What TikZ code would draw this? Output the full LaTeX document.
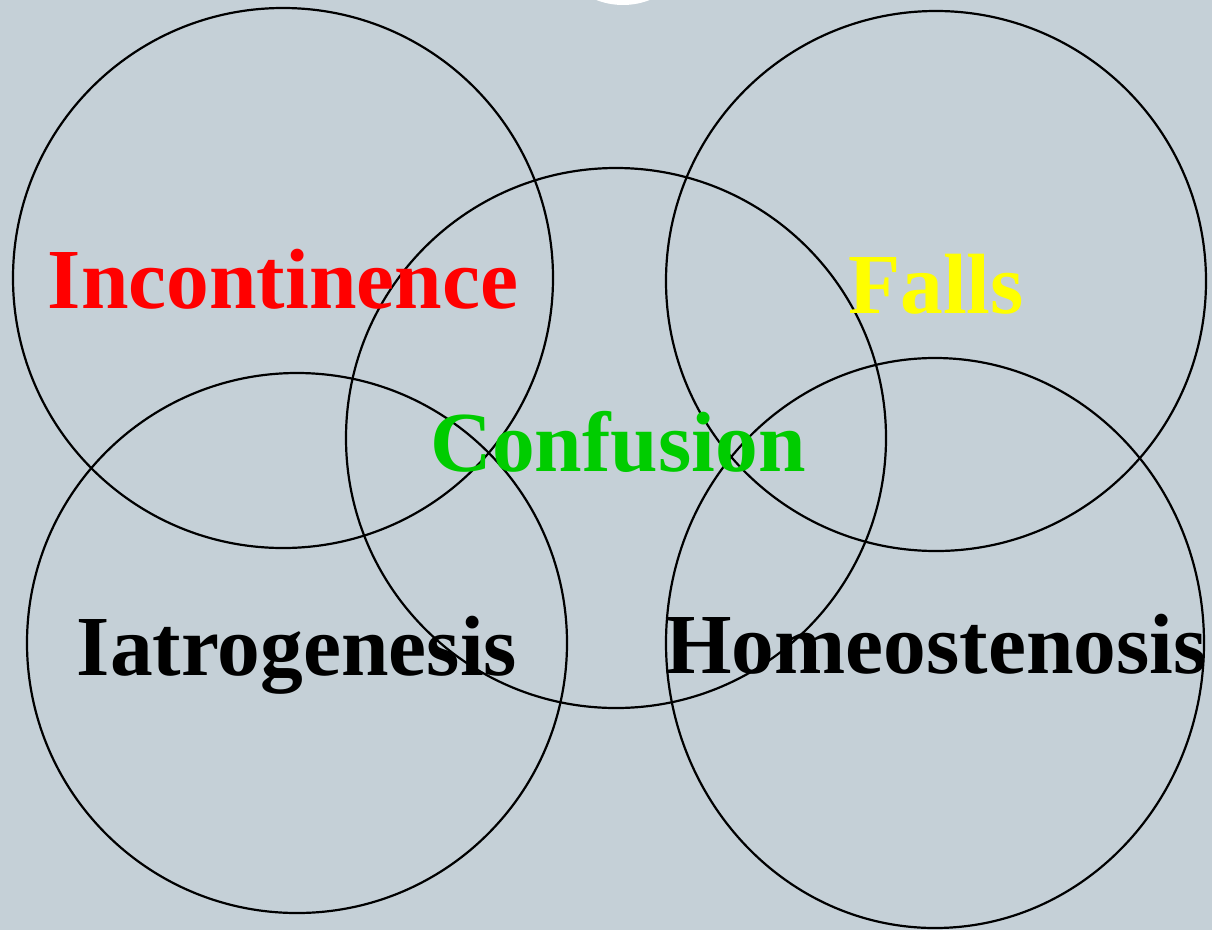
\documentclass[tikz,border=0pt]{standalone}
\usepackage{fontspec}
\setmainfont{Liberation Serif}
\usepackage{xcolor}
\usepackage{tikz}
\usetikzlibrary{positioning}
\definecolor{geriback}{HTML}{C5D0D7}
\definecolor{gerired}{RGB}{255, 0, 0}
\definecolor{geriyellow}{RGB}{255, 255, 0}
\definecolor{gerigreen}{RGB}{0, 204, 0}

\begin{document}
\begin{tikzpicture}[
    x=1pt, y=-1pt,
    ring/.style={draw=black, line width=2.2pt},
    word/.style={anchor=base, inner sep=0pt, font=\fontsize{85.5}{90}\selectfont\bfseries}
]
    % Background
    \fill[geriback] (0,0) rectangle (1212,930);
    \useasboundingbox (0,0) rectangle (1212,930);
    \fill[white] (623,-68) circle[radius=73];

    % Rings
    \draw[ring] (283,278) circle[radius=270];
    \draw[ring] (936,281) circle[radius=270];
    \draw[ring] (616,438) circle[radius=270];
    \draw[ring] (297,643) circle[radius=270];
    \draw[ring] (935,643) ellipse[x radius=269, y radius=285];

    % Labels
    \node[word, text=gerired] (incont) at (283,308) {Incontinence};
    \node[word, text=geriyellow] (falls) at (936,313) {Falls};
    \node[word, text=gerigreen] (confus) at (618,471) {Confusion};
    \node[word] (iatro) at (297,675) {Iatrogenesis};
    \node[word] (homeo) at (936,673) {Homeostenosis};
\end{tikzpicture}
\end{document}
